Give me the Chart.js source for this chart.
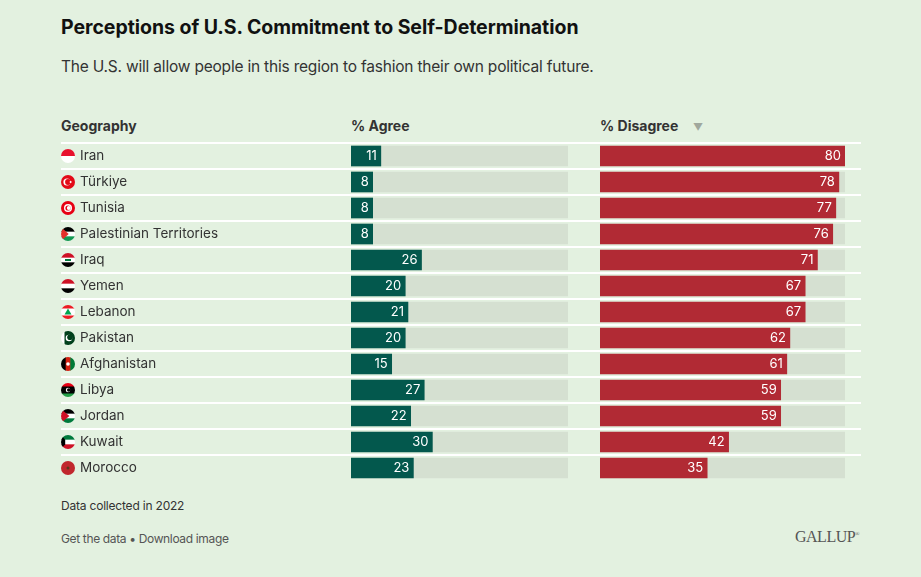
<!DOCTYPE html>
<html>
<head>
<meta charset="utf-8">
<script src="https://cdn.jsdelivr.net/npm/chart.js@4.4.1/dist/chart.umd.min.js"></script>
<style>
  html, body { margin:0; padding:0; }
  body { width:921px; height:577px; background:#e3f1e0; position:relative; overflow:hidden;
         font-family:"Inter","Roboto",sans-serif; color:#333; }
  .abs { position:absolute; white-space:nowrap; }
  #title { left:61px; top:15px; font-size:19.5px; font-weight:700; color:#111; letter-spacing:-0.04px; }
  #subtitle { left:61px; top:57px; font-size:15.5px; color:#333; letter-spacing:-0.2px; }
  .hdr { top:117px; font-size:14px; font-weight:700; color:#333; }
  #tri { left:693px; top:121px; font-size:10px; color:#a0a89d; }
  #note { left:61px; top:498px; font-size:12px; color:#333; letter-spacing:-0.2px; }
  #links { left:61px; top:531px; font-size:12px; color:#555; letter-spacing:-0.35px; }
  #gallup { left:795px; top:528px; font-size:16px; color:#555; font-family:"Liberation Serif","DejaVu Serif",serif; letter-spacing:-0.5px; }
  #gallup sup { font-size:6px; }
  canvas { position:absolute; left:0; top:0; }
</style>
</head>
<body>
<div class="abs" id="title">Perceptions of U.S. Commitment to Self-Determination</div>
<div class="abs" id="subtitle">The U.S. will allow people in this region to fashion their own political future.</div>
<div class="abs hdr" style="left:61px">Geography</div>
<div class="abs hdr" style="left:351px">% Agree</div>
<div class="abs hdr" style="left:600px">% Disagree</div>
<div class="abs" id="tri">▼</div>
<div class="abs" id="note">Data collected in 2022</div>
<div class="abs" id="links">Get the data • Download image</div>
<div class="abs" id="gallup">GALLUP<sup>®</sup></div>
<div style="position:absolute;left:0;top:0;width:921px;height:577px">
  <canvas id="cA" width="921" height="577"></canvas>
</div>
<div style="position:absolute;left:0;top:0;width:921px;height:577px">
  <canvas id="cB" width="921" height="577"></canvas>
</div>
<script>
const countries = ["Iran","Türkiye","Tunisia","Palestinian Territories","Iraq","Yemen","Lebanon","Pakistan","Afghanistan","Libya","Jordan","Kuwait","Morocco"];
const flagCodes = ["IR","TR","TN","PS","IQ","YE","LB","PK","AF","LY","JO","KW","MA"];
const agree = [11,8,8,8,26,20,21,20,15,27,22,30,23];
const disagree = [80,78,77,76,71,67,67,62,61,59,59,42,35];
const scaleMax = 80;
const track = countries.map(() => scaleMax);

const GREEN = "#03584d", RED = "#b12a34", TRACK = "#d5e0d1";

function drawFlag(ctx, code, cx, cy, r) {
  ctx.save();
  ctx.beginPath(); ctx.arc(cx, cy, r, 0, Math.PI*2); ctx.clip();
  const L = cx - r, T = cy - r, D = 2*r;
  const hs = (cols) => { const h = D/cols.length; cols.forEach((c,i)=>{ctx.fillStyle=c; ctx.fillRect(L, T+i*h, D, h+0.5);}); };
  const vs = (cols) => { const w = D/cols.length; cols.forEach((c,i)=>{ctx.fillStyle=c; ctx.fillRect(L+i*w, T, w+0.5, D);}); };
  const tri = (c, w) => { ctx.fillStyle=c; ctx.beginPath(); ctx.moveTo(L,T); ctx.lineTo(L+w,cy); ctx.lineTo(L,T+D); ctx.closePath(); ctx.fill(); };
  const circ = (x,y,rr,c) => { ctx.fillStyle=c; ctx.beginPath(); ctx.arc(x,y,rr,0,Math.PI*2); ctx.fill(); };
  switch(code) {
    case "IR": hs(["#e8112d","#fff"]); break;
    case "TR": hs(["#e30a17"]); circ(cx-1,cy,3.6,"#fff"); circ(cx,cy,2.9,"#e30a17"); circ(cx+2.6,cy,1,"#fff"); break;
    case "TN": hs(["#e70013"]); circ(cx,cy,4,"#fff"); circ(cx,cy,2.6,"#e70013"); circ(cx+0.8,cy,2,"#fff"); break;
    case "PS": hs(["#000","#fff","#149954"]); tri("#e4312b", r*1.1); break;
    case "IQ": hs(["#ce1126","#fff","#000"]); ctx.fillStyle="#007a3d"; ctx.fillRect(cx-3,cy-1,6,2); break;
    case "YE": hs(["#ce1126","#fff","#000"]); break;
    case "LB": hs(["#ed1c24","#fff","#fff","#ed1c24"]); ctx.fillStyle="#00a651"; ctx.beginPath(); ctx.moveTo(cx,cy-3.5); ctx.lineTo(cx+3.5,cy+2.5); ctx.lineTo(cx-3.5,cy+2.5); ctx.closePath(); ctx.fill(); break;
    case "PK": vs(["#fff","#01411c","#01411c","#01411c"]); circ(cx+1,cy,3.3,"#fff"); circ(cx+2,cy-0.8,2.8,"#01411c"); break;
    case "AF": vs(["#000","#d32011","#007a36"]); circ(cx,cy,1.8,"#fff"); break;
    case "LY": hs(["#e70013","#000","#000","#239e46"]); circ(cx,cy,2.2,"#fff"); circ(cx+0.7,cy,1.7,"#000"); break;
    case "JO": hs(["#000","#fff","#007a3d"]); tri("#ce1126", r*1.2); break;
    case "KW": hs(["#007a3d","#fff","#ce1126"]); ctx.fillStyle="#000"; ctx.beginPath(); ctx.moveTo(L,T); ctx.lineTo(L+D*0.3,T+D/3); ctx.lineTo(L+D*0.3,T+2*D/3); ctx.lineTo(L,T+D); ctx.closePath(); ctx.fill(); break;
    case "MA": hs(["#c1272d"]); circ(cx,cy,1.5,"#5a3a1d"); break;
  }
  ctx.restore();
}

const rowDeco = {
  id: "rowDeco",
  beforeDatasetsDraw(chart) {
    const ctx = chart.ctx, y = chart.scales.y;
    const step = y.getPixelForValue(1) - y.getPixelForValue(0);
    ctx.save();
    ctx.fillStyle = "#ffffff";
    for (let i = 0; i < countries.length; i++) {
      const top = y.getPixelForValue(i) - step/2;
      ctx.fillRect(61, top - 1, 800, 2);
    }
    countries.forEach((c, i) => drawFlag(ctx, flagCodes[i], 68, y.getPixelForValue(i), 7));
    ctx.restore();
  }
};

const valueLabels = {
  id: "valueLabels",
  afterDatasetsDraw(chart) {
    const ctx = chart.ctx;
    const meta = chart.getDatasetMeta(0);
    const data = chart.data.datasets[0].data;
    ctx.save();
    ctx.fillStyle = "#ffffff";
    ctx.font = '13px Inter, Roboto, sans-serif';
    ctx.textAlign = "right";
    ctx.textBaseline = "middle";
    meta.data.forEach((bar, i) => {
      ctx.fillText(String(data[i]), bar.x - 4, bar.y + 0.5);
    });
    ctx.restore();
  }
};

function makeChart(id, values, color, pad, showNames) {
  const yScale = {
    display: showNames,
    offset: true,
    grid: { display: false, drawTicks: false },
    border: { display: false },
    ticks: { crossAlign: "far", padding: 0, color: "#333",
             font: { family: "Inter, Roboto, sans-serif", size: 13.5 } }
  };
  if (showNames) yScale.afterFit = (s) => { s.width = 271; };
  return new Chart(document.getElementById(id), {
    type: "bar",
    data: {
      labels: countries,
      datasets: [
        { data: values, backgroundColor: color, barThickness: 20, grouped: false, order: 0 },
        { data: track, backgroundColor: TRACK, barThickness: 20, grouped: false, order: 1 }
      ]
    },
    options: {
      indexAxis: "y",
      responsive: false,
      animation: false,
      devicePixelRatio: 1,
      layout: { padding: pad },
      plugins: { legend: { display: false }, tooltip: { enabled: false } },
      scales: {
        x: { display: false, min: 0, max: scaleMax },
        y: yScale
      }
    },
    plugins: showNames ? [rowDeco, valueLabels] : [valueLabels]
  });
}

makeChart("cA", agree, GREEN, { left: 80, right: 353, top: 143, bottom: 96 }, true);
makeChart("cB", disagree, RED, { left: 600, right: 76, top: 143, bottom: 96 }, false);
</script>
</body>
</html>
